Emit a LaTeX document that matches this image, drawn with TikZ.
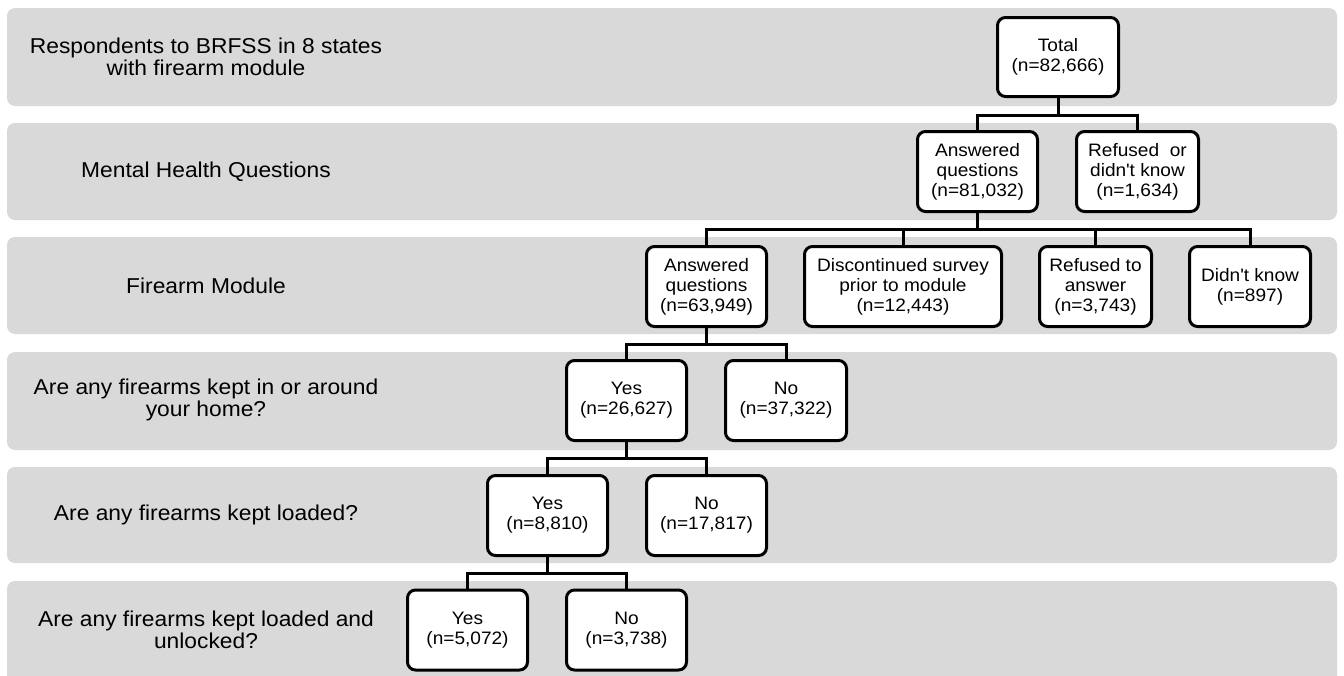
\documentclass[tikz,border=0pt]{standalone}
\usepackage{fontspec}
\setmainfont{Liberation Sans}[FakeStretch=1.06]
\definecolor{bandgray}{HTML}{D9D9D9}
\begin{document}
\begin{tikzpicture}[x=1pt,y=-1pt,
  band/.style={fill=bandgray, rounded corners=8pt},
  lbl/.style={font=\fontsize{21.5}{22}\selectfont, align=center, inner sep=0pt},
  box/.style={draw=black, line width=3pt, fill=white, rounded corners=8pt,
    align=center, font=\fontsize{18}{20}\selectfont, inner sep=2pt,
    minimum height=80pt},
  conn/.style={draw=black, line width=3pt}]
\useasboundingbox (0,0) rectangle (1344,675);
% bands
\fill[band] (7,8) rectangle (1337,106);
\fill[band] (7,123) rectangle (1337,220);
\fill[band] (7,237) rectangle (1337,334);
\fill[band] (7,352) rectangle (1337,450);
\fill[band] (7,467) rectangle (1337,563);
\fill[band] (7,581) rectangle (1337,684);
% row labels
\node[lbl] (l1) at (206,57) {Respondents to BRFSS in 8 states\\with firearm module};
\node[lbl] (l2) at (206,171.5) {Mental Health Questions};
\node[lbl] (l3) at (206,285.5) {Firearm Module};
\node[lbl] (l4) at (206,400) {Are any firearms kept in or around\\your home?};
\node[lbl] (l5) at (206,515) {Are any firearms kept loaded?};
\node[lbl] (l6) at (206,630) {Are any firearms kept loaded and\\unlocked?};
% boxes
\node[box, minimum width=121pt, minimum height=79pt] (total) at (1058,57) {Total\\(n=82,666)};
\node[box, minimum width=120pt] (ans81) at (977.5,171.5) {Answered\\questions\\(n=81,032)};
\node[box, minimum width=122pt] (ref81) at (1137.5,171.5) {Refused\hspace{0.3em} or\\didn\textquotesingle t know\\(n=1,634)};
\node[box, minimum width=120pt] (ans63) at (706.5,286.5) {Answered\\questions\\(n=63,949)};
\node[box, minimum width=197pt] (disc) at (903,286.5) {Discontinued survey\\prior to module\\(n=12,443)};
\node[box, minimum width=112pt] (refa) at (1095.5,286.5) {Refused to\\answer\\(n=3,743)};
\node[box, minimum width=121pt] (dk) at (1250,286.5) {Didn\textquotesingle t know\\(n=897)};
\node[box, minimum width=120pt] (yes1) at (626.5,400.5) {Yes\\(n=26,627)};
\node[box, minimum width=121pt] (no1) at (786,400.5) {No\\(n=37,322)};
\node[box, minimum width=120pt] (yes2) at (547.5,515.5) {Yes\\(n=8,810)};
\node[box, minimum width=120pt] (no2) at (706.5,515.5) {No\\(n=17,817)};
\node[box, minimum width=120pt] (yes3) at (467.5,630) {Yes\\(n=5,072)};
\node[box, minimum width=120pt] (no3) at (626.5,630) {No\\(n=3,738)};
% connectors
\draw[conn] (total.south) -- ++(0,17) -| (ans81.north);
\draw[conn] (total.south) -- ++(0,17) -| (ref81.north);
\draw[conn] (ans81.south) -- ++(0,16) -| (ans63.north);
\draw[conn] (ans81.south) -- ++(0,16) -| (disc.north);
\draw[conn] (ans81.south) -- ++(0,16) -| (refa.north);
\draw[conn] (ans81.south) -- ++(0,16) -| (dk.north);
\draw[conn] (ans63.south) -- ++(0,16) -| (yes1.north);
\draw[conn] (ans63.south) -- ++(0,16) -| (no1.north);
\draw[conn] (yes1.south) -- ++(0,16) -| (yes2.north);
\draw[conn] (yes1.south) -- ++(0,16) -| (no2.north);
\draw[conn] (yes2.south) -- ++(0,16) -| (yes3.north);
\draw[conn] (yes2.south) -- ++(0,16) -| (no3.north);
\end{tikzpicture}
\end{document}
